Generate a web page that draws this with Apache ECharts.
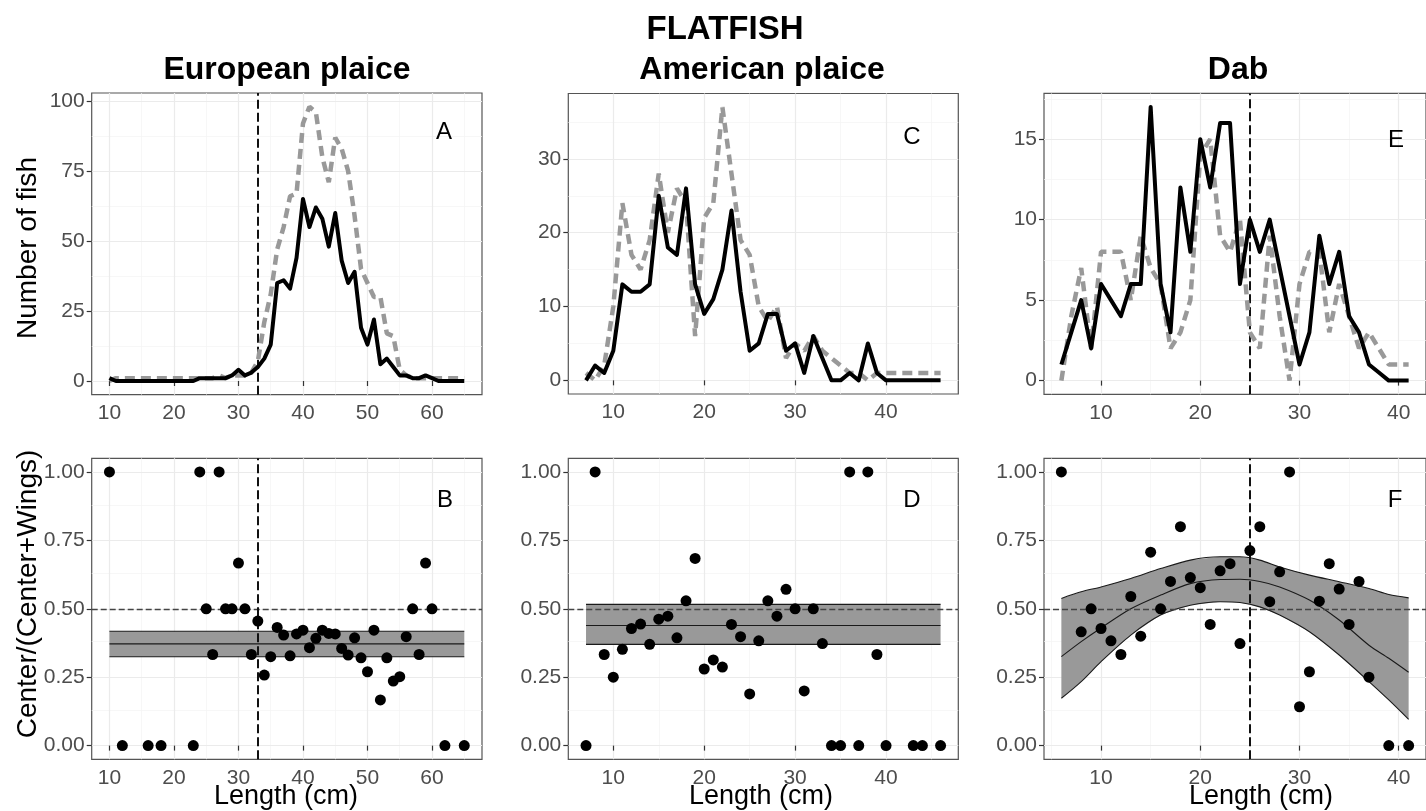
<!DOCTYPE html>
<html style="height: 100%">
<head>
    <meta charset="utf-8">
    <title>FLATFISH</title>
    <script src="https://cdn.jsdelivr.net/npm/echarts/dist/echarts.min.js"></script>
</head>
<body style="height: 100%; margin: 0; background: #fff">
    <div id="main" style="width: 1426px; height: 811px"></div>
    <script type="text/javascript">
        // ---- European plaice (A, B) ----
        var lenA = [10,11,12,13,14,15,16,17,18,19,20,21,22,23,24,25,26,27,28,29,30,31,32,33,34,35,36,37,38,39,
                    40,41,42,43,44,45,46,47,48,49,50,51,52,53,54,55,56,57,58,59,60,61,62,63,64,65];
        var centerA = [1,0,0,0,0,0,0,0,0,0,0,0,0,0,1,1,1,1,1,2,4,2,3,5,8,13,35,36,33,44,
                       65,55,62,58,48,60,43,35,39,19,13,22,6,8,5,2,2,1,1,2,1,0,0,0,0,0];
        var wingsA = [0,1,1,1,1,1,1,1,1,1,1,1,1,1,1,1,1,2,1,2,2,2,3,7,21,31,47,55,66,67,
                      92,98,96,80,71,87,83,75,59,40,35,30,30,17,16,4,2,1,1,1,1,1,1,1,1,1];
        var ratioLenB = [10,12,16,18,23,24,25,26,27,28,29,30,31,32,33,34,35,36,37,38,39,40,41,42,43,44,45,46,47,48,
                         49,50,51,52,53,54,55,56,57,58,59,60,62,65];
        var ratioB = [1,0,0,0,0,1,0.5,0.333,1,0.5,0.5,0.667,0.5,0.333,0.455,0.258,0.325,0.432,0.404,0.328,0.408,0.422,0.358,0.392,0.422,0.41,0.408,0.355,0.331,0.394,
                      0.321,0.27,0.422,0.167,0.321,0.236,0.252,0.398,0.5,0.333,0.667,0.5,0,0];
        var fitLenB = [10, 65];
        var fitB = [0.372, 0.372];
        var loB = [0.325, 0.325];
        var hiB = [0.418, 0.418];
        var cutA = 33;

        // ---- American plaice (C, D) ----
        var lenC = [7,8,9,10,11,12,13,14,15,16,17,18,19,20,21,22,23,24,25,26,27,28,29,30,31,32,33,34,35,36,
                    37,38,39,40,41,42,43,44,45,46];
        var centerC = [0,2,1,4,13,12,12,13,25,18,17,26,13,9,11,15,23,12,4,5,9,9,4,5,1,6,3,0,0,1,
                       0,5,1,0,0,0,0,0,0,0];
        var wingsC = [1,0,2,10,24,17,15,19,28,20,26,24,6,22,24,37,28,19,17,10,8,10,3,5,4,6,4,3,2,1,
                      1,0,1,1,1,1,1,1,1,1];
        var ratioLenD = [7,8,9,10,11,12,13,14,15,16,17,18,19,20,21,22,23,24,25,26,27,28,29,30,31,32,33,34,35,36,
                         37,38,39,40,43,44,46];
        var ratioD = [0,1,0.333,0.25,0.352,0.428,0.444,0.37,0.462,0.473,0.394,0.529,0.684,0.28,0.313,0.287,0.443,0.398,0.189,0.383,0.529,0.473,0.571,0.5,0.2,0.5,0.373,0,0,1,
                      0,1,0.333,0,0,0,0];
        var fitLenD = [7, 46];
        var fitD = [0.439, 0.439];
        var loD = [0.37, 0.37];
        var hiD = [0.516, 0.516];

        // ---- Dab (E, F) ----
        var lenE = [6,7,8,9,10,11,12,13,14,15,16,17,18,19,20,21,22,23,24,25,26,27,28,29,30,31,32,33,34,35,
                    36,37,38,39,40,41];
        var centerE = [1,3,5,2,6,5,4,6,6,17,6,3,12,8,15,12,16,16,6,10,8,10,7,4,1,3,9,6,8,4,
                       3,1,0.5,0,0,0];
        var wingsE = [0,4,7,2,8,8,8,5,9,7,6,2,3,5,14,15,9,8,10,3,2,9,4,0,6,8,8,3,6,4,
                      2,3,2,1,1,1];
        var ratioLenF = [6,8,9,10,11,12,13,14,15,16,17,18,19,20,21,22,23,24,25,26,27,28,29,30,31,32,33,34,35,36,37,39,41];
        var ratioF = [1,0.416,0.5,0.428,0.383,0.333,0.545,0.4,0.707,0.5,0.6,0.8,0.614,0.577,0.443,0.639,0.665,0.373,0.713,0.8,
                      0.526,0.635,1,0.142,0.27,0.528,0.665,0.572,0.443,0.6,0.25,0,0];
        var fitLenF = [6,8,10,13,16,19,22,24,26,28,31,34,37,39,41];
        var fitF = [0.325,0.38,0.43,0.5,0.55,0.592,0.607,0.608,0.6,0.58,0.532,0.459,0.367,0.319,0.268];
        var loF = [0.173,0.234,0.307,0.404,0.477,0.513,0.526,0.523,0.507,0.477,0.416,0.331,0.234,0.167,0.096];
        var hiF = [0.538,0.562,0.58,0.611,0.647,0.678,0.69,0.69,0.678,0.653,0.623,0.599,0.574,0.552,0.54];
        var cutE = 25;

        // ---- tick labels and grid lines ----
        var xTicksA = [10,20,30,40,50,60], xMinorA = [15,25,35,45,55,65];
        var xTicksC = [10,20,30,40], xMinorC = [15,25,35,45];
        var xTicksE = [10,20,30,40], xMinorE = [5,15,25,35];
        var yTicksA = [0,25,50,75,100], yMinorA = [12.5,37.5,62.5,87.5];
        var yTicksC = [0,10,20,30], yMinorC = [5,15,25,35];
        var yTicksE = [0,5,10,15], yMinorE = [2.5,7.5,12.5,17.5];
        var yTicksR = [0,0.25,0.5,0.75,1], yMinorR = [0.125,0.375,0.625,0.875];

        var FONT = 'Liberation Sans, Arial, sans-serif';
        var myChart = echarts.init(document.getElementById('main'));

        function pairs(xs, ys) {
            return xs.map(function (x, i) { return [x, ys[i]]; });
        }

        var grids = [
            { left: 91.7, top: 93, width: 390.3, height: 301.7 },
            { left: 568.3, top: 93.5, width: 390, height: 300.5 },
            { left: 1044, top: 93.3, width: 389, height: 301 },
            { left: 91.7, top: 458.3, width: 390.3, height: 301 },
            { left: 568.3, top: 458.3, width: 390, height: 301 },
            { left: 1044, top: 458.3, width: 389, height: 301 }
        ].map(function (g) {
            g.show = true; g.borderColor = '#555'; g.borderWidth = 1.2; g.backgroundColor = '#fff';
            return g;
        });

        function xAxis(idx, min, max, ticks) {
            return {
                type: 'value', gridIndex: idx, min: min, max: max,
                axisLine: { show: false },
                axisTick: { show: true, length: 5, customValues: ticks, lineStyle: { color: '#333', width: 1.2 } },
                axisLabel: { customValues: ticks, color: '#4d4d4d', fontSize: 21, fontFamily: FONT, margin: 8 },
                splitLine: { show: false }
            };
        }
        function yAxis(idx, min, max, ticks, fmt) {
            return {
                type: 'value', gridIndex: idx, min: min, max: max,
                axisLine: { show: false },
                axisTick: { show: true, length: 5, customValues: ticks, lineStyle: { color: '#333', width: 1.2 } },
                axisLabel: { customValues: ticks, color: '#4d4d4d', fontSize: 21, fontFamily: FONT, margin: 7,
                    formatter: fmt ? function (v) { return v.toFixed(2); } : null },
                splitLine: { show: false }
            };
        }

        var series = [];

        function gridLines(idx, xs, ys, color, width) {
            var d = xs.map(function (v) { return { xAxis: v }; })
                .concat(ys.map(function (v) { return { yAxis: v }; }));
            series.push({
                type: 'line', xAxisIndex: idx, yAxisIndex: idx, data: [], z: 0, silent: true,
                markLine: { z: 0, silent: true, symbol: 'none', label: { show: false }, animation: false,
                    lineStyle: { type: 'solid', color: color, width: width }, data: d }
            });
        }
        function refLine(idx, item, color, width, dash) {
            series.push({
                type: 'line', xAxisIndex: idx, yAxisIndex: idx, data: [], z: 4, silent: true,
                markLine: { z: 4, silent: true, symbol: 'none', label: { show: false }, animation: false,
                    lineStyle: { type: dash, color: color, width: width }, data: [item] }
            });
        }
        function counts(idx, lens, center, wings) {
            series.push({
                type: 'line', xAxisIndex: idx, yAxisIndex: idx, data: pairs(lens, wings), showSymbol: false, z: 5,
                lineStyle: { color: '#999999', width: 4.5, type: [10, 6], cap: 'butt' }
            });
            series.push({
                type: 'line', xAxisIndex: idx, yAxisIndex: idx, data: pairs(lens, center), showSymbol: false, z: 6,
                lineStyle: { color: '#000', width: 4, join: 'round' }
            });
        }
        function band(idx, lens, fit, lo, hi, smooth) {
            // filled confidence band between lo and hi
            series.push({
                type: 'custom', xAxisIndex: idx, yAxisIndex: idx, z: 2, silent: true,
                data: lens.map(function (x, i) { return [x, lo[i], hi[i]]; }),
                encode: { x: 0, y: [1, 2] },
                renderItem: function (params, api) {
                    if (params.dataIndex !== 0) return;
                    var top = lens.map(function (x, i) { return api.coord([x, hi[i]]); });
                    var bot = lens.map(function (x, i) { return api.coord([x, lo[i]]); }).reverse();
                    return { type: 'polygon', shape: { points: top.concat(bot) }, style: { fill: '#999999' } };
                }
            });
            [lo, hi, fit].forEach(function (arr) {
                series.push({
                    type: 'line', xAxisIndex: idx, yAxisIndex: idx, data: pairs(lens, arr),
                    showSymbol: false, smooth: smooth, lineStyle: { color: '#1a1a1a', width: 1.1 }, z: 3
                });
            });
        }
        function points(idx, lens, ratio) {
            series.push({
                type: 'scatter', xAxisIndex: idx, yAxisIndex: idx, data: pairs(lens, ratio),
                symbolSize: 11, itemStyle: { color: '#000', opacity: 1 }, z: 7
            });
        }

        // grid lines
        gridLines(0, xMinorA, yMinorA, '#f3f3f3', 0.7);
        gridLines(0, xTicksA, yTicksA, '#ebebeb', 1.2);
        gridLines(1, xMinorC, yMinorC, '#f3f3f3', 0.7);
        gridLines(1, xTicksC, yTicksC, '#ebebeb', 1.2);
        gridLines(2, xMinorE, yMinorE, '#f3f3f3', 0.7);
        gridLines(2, xTicksE, yTicksE, '#ebebeb', 1.2);
        gridLines(3, xMinorA, yMinorR, '#f3f3f3', 0.7);
        gridLines(3, xTicksA, yTicksR, '#ebebeb', 1.2);
        gridLines(4, xMinorC, yMinorR, '#f3f3f3', 0.7);
        gridLines(4, xTicksC, yTicksR, '#ebebeb', 1.2);
        gridLines(5, xMinorE, yMinorR, '#f3f3f3', 0.7);
        gridLines(5, xTicksE, yTicksR, '#ebebeb', 1.2);

        // top row: counts
        counts(0, lenA, centerA, wingsA);
        counts(1, lenC, centerC, wingsC);
        counts(2, lenE, centerE, wingsE);
        refLine(0, { xAxis: cutA }, '#111', 2, [9, 4]);
        refLine(2, { xAxis: cutE }, '#111', 2, [9, 4]);

        // bottom row: ratios
        band(3, fitLenB, fitB, loB, hiB, false);
        band(4, fitLenD, fitD, loD, hiD, false);
        band(5, fitLenF, fitF, loF, hiF, 0.3);
        [3, 4, 5].forEach(function (i) { refLine(i, { yAxis: 0.5 }, '#444', 1.4, [6, 3]); });
        refLine(3, { xAxis: cutA }, '#111', 2, [9, 4]);
        refLine(5, { xAxis: cutE }, '#111', 2, [9, 4]);
        points(3, ratioLenB, ratioB);
        points(4, ratioLenD, ratioD);
        points(5, ratioLenF, ratioF);

        function txt(x, y, s, size, bold, rot) {
            return {
                type: 'text', x: x, y: y, rotation: rot || 0, z: 100,
                style: { text: s, fill: '#000', font: (bold ? 'bold ' : '') + size + 'px ' + FONT,
                    align: 'center', verticalAlign: 'middle', textAlign: 'center', textVerticalAlign: 'middle' }
            };
        }

        var option = {
            animation: false,
            backgroundColor: '#fff',
            grid: grids,
            xAxis: [
                xAxis(0, 7.25, 67.75, xTicksA), xAxis(1, 5.05, 47.95, xTicksC), xAxis(2, 4.25, 42.75, xTicksE),
                xAxis(3, 7.25, 67.75, xTicksA), xAxis(4, 5.05, 47.95, xTicksC), xAxis(5, 4.25, 42.75, xTicksE)
            ],
            yAxis: [
                yAxis(0, -4.9, 102.9, yTicksA), yAxis(1, -1.85, 38.85, yTicksC), yAxis(2, -0.85, 17.85, yTicksE),
                yAxis(3, -0.05, 1.05, yTicksR, true), yAxis(4, -0.05, 1.05, yTicksR, true), yAxis(5, -0.05, 1.05, yTicksR, true)
            ],
            series: series,
            graphic: [
                txt(725, 30, 'FLATFISH', 33, true),
                txt(287, 70, 'European plaice', 32, true),
                txt(762, 70, 'American plaice', 32, true),
                txt(1238, 70, 'Dab', 32, true),
                txt(444, 132, 'A', 24), txt(912, 137, 'C', 24), txt(1396, 140, 'E', 24),
                txt(445, 500, 'B', 24), txt(912, 500, 'D', 24), txt(1395, 500, 'F', 24),
                txt(28, 248, 'Number of fish', 28, false, Math.PI / 2),
                txt(28, 594, 'Center/(Center+Wings)', 28, false, Math.PI / 2),
                txt(286, 797, 'Length (cm)', 27), txt(761, 797, 'Length (cm)', 27), txt(1261, 797, 'Length (cm)', 27)
            ]
        };

        myChart.setOption(option);
    </script>
</body>
</html>
